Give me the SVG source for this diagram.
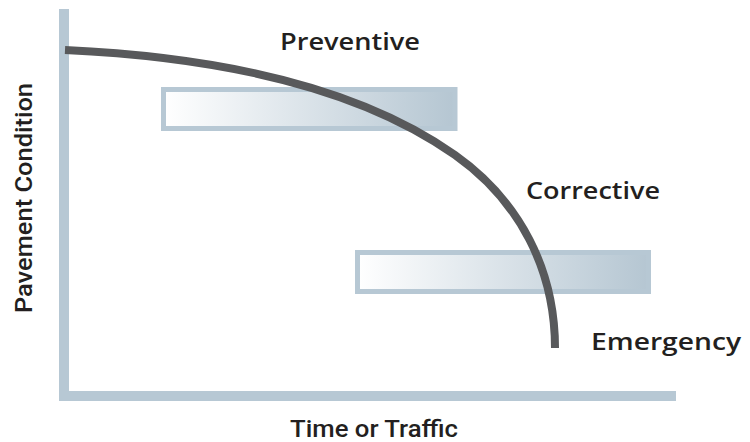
<svg xmlns="http://www.w3.org/2000/svg" width="750" height="442" viewBox="0 0 750 442">
  <style>
    .axis { fill: #b7c8d4; }
    .band { fill: url(#bandGrad); stroke: #b7c8d4; stroke-width: 5; }
    .label { font-family: "Open Sans", "DejaVu Sans", sans-serif; font-weight: 600; font-size: 23px; fill: #231f20; }
    .axislabel { font-family: Roboto, "Liberation Sans", sans-serif; font-weight: 500; font-size: 23px; fill: #231f20; }
    .curve { fill: none; stroke: #58595b; stroke-width: 8; }
  </style>
  <defs>
    <linearGradient id="bandGrad" x1="0" y1="0" x2="1" y2="0">
      <stop offset="0" stop-color="#ffffff"/>
      <stop offset="1" stop-color="#b5c6d2"/>
    </linearGradient>
  </defs>
  <rect width="750" height="442" fill="#ffffff"/>
  <g id="axes">
    <rect class="axis" x="59" y="9" width="10" height="392"/>
    <rect class="axis" x="59" y="391" width="617" height="10"/>
  </g>
  <g id="preventive">
    <rect class="band" x="163.5" y="89.5" width="291.5" height="39"/>
    <text class="label" x="280" y="50" textLength="140" lengthAdjust="spacingAndGlyphs">Preventive</text>
  </g>
  <g id="corrective">
    <rect class="band" x="357.5" y="252.5" width="291" height="39"/>
    <text class="label" x="526" y="199" textLength="134" lengthAdjust="spacingAndGlyphs">Corrective</text>
  </g>
  <g id="emergency">
    <text class="label" x="591" y="350" textLength="150" lengthAdjust="spacingAndGlyphs">Emergency</text>
  </g>
  <g id="connectors">
    <path class="curve" d="M65,50 C240,58 370,95 455,155 C520,201 555,270 555,348"/>
  </g>
  <g id="axis-labels">
    <text class="axislabel" x="290" y="437" textLength="168" lengthAdjust="spacingAndGlyphs">Time or Traffic</text>
    <text class="axislabel" transform="translate(32,313) rotate(-90)" textLength="230" lengthAdjust="spacingAndGlyphs">Pavement Condition</text>
  </g>
</svg>
